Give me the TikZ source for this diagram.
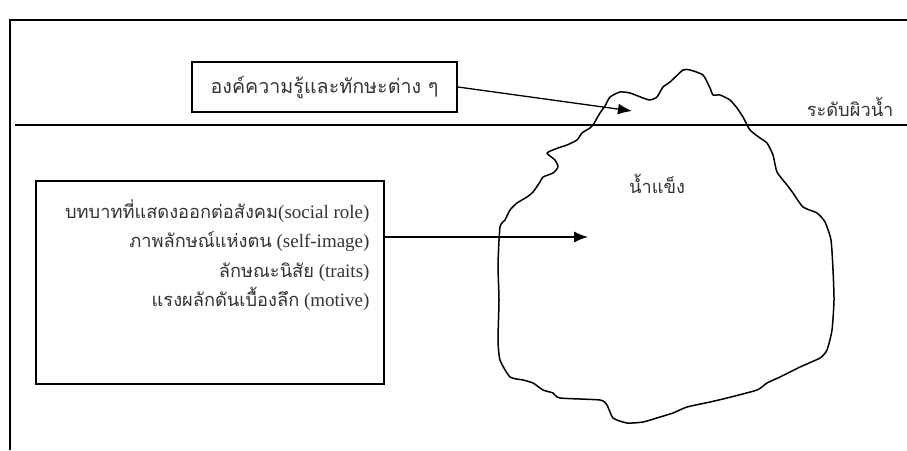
\documentclass[tikz,border=0pt]{standalone}
\usepackage{fontspec}
\setmainfont{Liberation Serif}
\newfontfamily\thaifont[Script=Thai,Scale=0.96]{Loma}
\newcommand{\thaitext}[1]{{\thaifont #1}}
\usetikzlibrary{arrows.meta}

\tikzset{
	frame/.style={line width=1.1pt},
	box/.style={draw, line width=2pt, inner sep=0pt},
	pointer/.style={-{Latex[length=14pt,width=11pt]}, line width=1.3pt},
	iceberg/.style={line width=1.5pt, line join=round}
}

\begin{document}
\begin{tikzpicture}[x=1pt, y=-1pt, font=\fontsize{19}{22}\selectfont, text=black!80]
	\useasboundingbox (0,0) rectangle (907,450);
	% frame and water surface
	\draw[frame] (907,20) -- (10,20) -- (10,450);
	\draw[frame] (15,125) -- (907,125);
	\node[anchor=base east] (level) at (897,116) {\thaitext{ระดับผิวน้ำ}};

	% the iceberg
	\draw[iceberg] plot[smooth cycle, tension=0.35] coordinates {
		(593,125) (600,113) (605,106) (610,97) (620,92) (630,93) (643,98) (650,100)
		(657,97) (663,87) (670,82) (683,70) (690,70) (703,75) (710,88) (713,95)
		(720,95) (730,100) (737,108) (743,117) (750,130) (760,138) (767,143)
		(773,155) (777,172) (787,185) (793,193) (803,207) (817,213) (825,222)
		(831,240) (833,270) (834,300) (832,330) (827,350) (820,358) (800,367)
		(780,377) (767,383) (757,390) (727,398) (710,402) (687,407) (673,413)
		(660,417) (643,422) (627,423) (613,418) (607,405) (600,400) (560,398)
		(553,393) (543,390) (533,383) (523,380) (510,377) (500,360) (498,340)
		(499,300) (498,265) (500,227) (505,220) (510,210) (517,203) (527,197)
		(533,192) (540,182) (543,177) (553,173) (558,167) (555,160) (547,153)
		(558,148) (567,145) (577,140) (582,133) (590,128)};
	\node (ice) at (657,184) {\thaitext{น้ำแข็ง}};

	% what shows above the surface
	\node[box, minimum width=265, minimum height=50, font=\fontsize{20.5}{24}\selectfont]
		(skill) at (324.5,87) {\thaitext{องค์ความรู้และทักษะต่าง ๆ}};
	\coordinate (tipA) at (632,111);
	\draw[pointer] (skill.east) -- (tipA);

	% what stays below it
	\node[box, minimum width=348, minimum height=203] (deep) at (210,282.5) {};
	\node[anchor=north east, align=right, font=\fontsize{19}{29.5}\selectfont]
		(deeptext) at ([xshift=-12pt,yshift=-16pt]deep.north east)
		{\thaitext{บทบาทที่แสดงออกต่อสังคม}(social role)\\
		 \thaitext{ภาพลักษณ์แห่งตน} (self-image)\\
		 \thaitext{ลักษณะนิสัย} (traits)\\
		 \thaitext{แรงผลักดันเบื้องลึก} (motive)};
	\coordinate (tipB) at (588,237);
	\draw[pointer] (deep.east |- tipB) -- (tipB);
\end{tikzpicture}
\end{document}
